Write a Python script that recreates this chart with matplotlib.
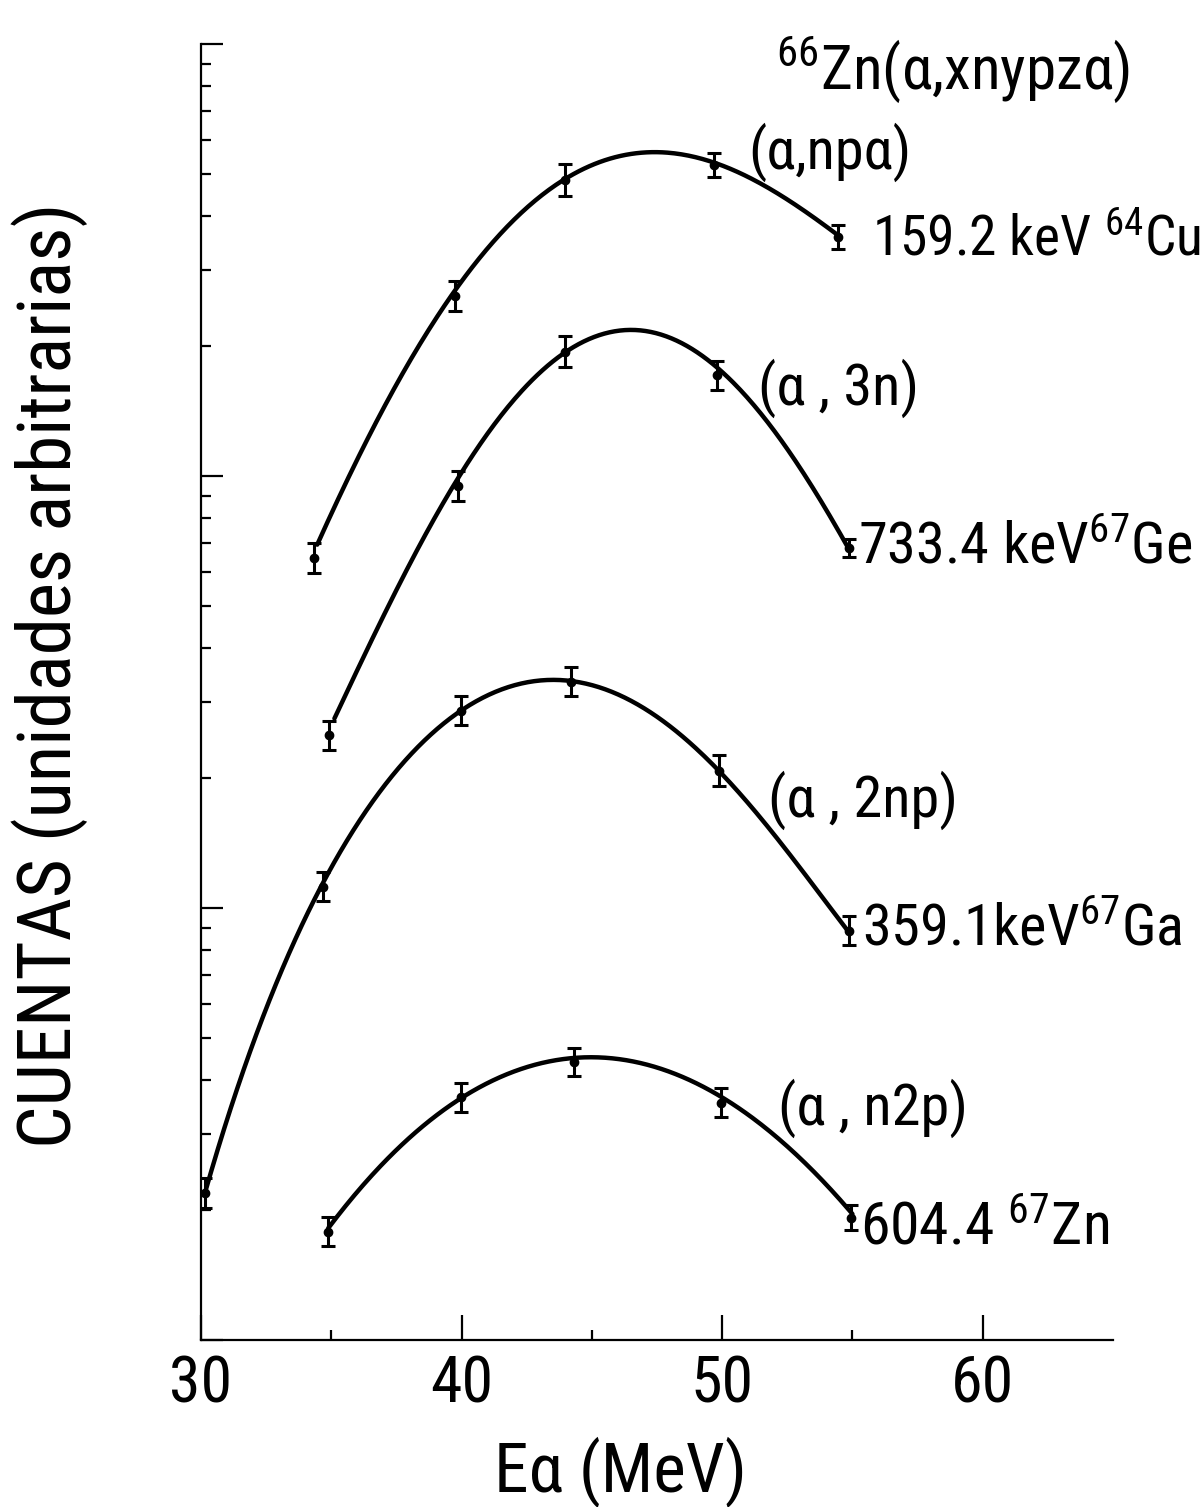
import numpy as np
import matplotlib
matplotlib.use("Agg")
import matplotlib.pyplot as plt
from matplotlib import font_manager as fm
from matplotlib.ticker import FixedLocator, NullFormatter, LogLocator

_names = {f.name for f in fm.fontManager.ttflist}
FONT = 'DejaVu Sans'
for cand in ['Roboto Condensed', 'Liberation Sans Narrow', 'Archivo Narrow', 'Roboto']:
    if cand in _names:
        FONT = cand
        break
plt.rcParams['font.family'] = [FONT, 'DejaVu Sans']

# ---------------- data ----------------
# (alpha, n p alpha)  159.2 keV 64Cu
npa_E = [34.35, 39.73, 43.96, 49.70, 54.46]
npa_y = [64.6, 261, 484, 525, 357]
npa_err = [0.085, 0.085, 0.09, 0.065, 0.065]
npa_curve_E = [34.46, 36.88, 39.73, 42.0, 43.96, 45.85, 47.15, 49.69, 51.77, 53.04, 54.46]
npa_curve_y = [69.2, 140, 265, 392, 490, 545, 560, 531, 467, 413, 361]

# (alpha, 3n)  733.4 keV 67Ge
a3n_E = [34.92, 39.88, 43.96, 49.80, 54.85]
a3n_y = [25.1, 94.8, 194, 171, 68.1]
a3n_err = [0.08, 0.085, 0.085, 0.08, 0.05]
a3n_curve_E = [35.12, 37.46, 39.85, 41.88, 43.92, 46.38, 48.5, 49.85, 52.19, 53.65, 54.85]
a3n_curve_y = [27.2, 55.3, 97.9, 142, 196, 220, 203, 176, 123, 89.3, 68.5]

# (alpha, 2np)  359.1 keV 67Ga
a2np_E = [30.15, 34.69, 39.96, 44.19, 49.88, 54.85]
a2np_y = [2.19, 11.2, 28.6, 33.4, 20.8, 8.85]
a2np_err = [0.085, 0.08, 0.08, 0.08, 0.085, 0.08]
a2np_curve_E = [30.15, 31.23, 32.92, 34.73, 36.62, 38.27, 39.96, 42.12, 44.19,
                46.31, 47.96, 49.88, 52.15, 53.65, 54.85]
a2np_curve_y = [2.21, 3.50, 6.89, 11.4, 17.8, 23.8, 28.6, 32.3, 33.3,
                31.1, 26.5, 20.7, 14.4, 10.9, 8.85]

# (alpha, n2p)  604.4 67Zn
an2p_E = [34.88, 39.96, 44.31, 49.96, 54.96]
an2p_y = [1.78, 3.65, 4.40, 3.54, 1.92]
an2p_err = [0.08, 0.08, 0.08, 0.08, 0.07]
an2p_curve_E = [34.88, 37.12, 39.96, 42.12, 44.31, 47.15, 49.96, 52.15, 55.0]
an2p_curve_y = [1.83, 2.55, 3.69, 4.24, 4.47, 4.29, 3.65, 2.96, 1.95]

x_major = [30, 40, 50, 60]
x_minor = [35, 45, 55]
x_ticklabels = ["30", "40", "50", "60"]

series = [
    (npa_E, npa_y, npa_err, npa_curve_E, npa_curve_y, 4),
    (a3n_E, a3n_y, a3n_err, a3n_curve_E, a3n_curve_y, 4),
    (a2np_E, a2np_y, a2np_err, a2np_curve_E, a2np_curve_y, 5),
    (an2p_E, an2p_y, an2p_err, an2p_curve_E, an2p_curve_y, 4),
]

W, H = 1204, 1507
fig = plt.figure(figsize=(W / 100, H / 100), dpi=100)
ax = fig.add_axes([201 / W, 1 - 1340 / H, 912 / W, 1296 / H])
ax.set_yscale('log')
ax.set_xlim(30, 65)
ax.set_ylim(1, 1000)

for E, y, err, cE, cy, deg in series:
    # smooth least-squares fit through the curve points
    coef = np.polyfit(cE, np.log10(cy), deg)
    xs = np.linspace(cE[0], cE[-1], 300)
    ax.plot(xs, 10 ** np.polyval(coef, xs), color='black', lw=3.2,
            solid_capstyle='round', zorder=2)
    y = np.asarray(y)
    e = np.asarray(err)
    lower = y - y / (1 + e)
    upper = y * e
    ax.errorbar(E, y, yerr=[lower, upper], fmt='o', color='black', ms=6,
                elinewidth=2.2, capsize=5, capthick=2.2, zorder=3)

for s in ['top', 'right']:
    ax.spines[s].set_visible(False)
for s in ['left', 'bottom']:
    ax.spines[s].set_linewidth(1.6)

ax.xaxis.set_major_locator(FixedLocator(x_major))
ax.xaxis.set_minor_locator(FixedLocator(x_minor))
ax.set_xticklabels(x_ticklabels)
ax.yaxis.set_major_locator(LogLocator(base=10, numticks=10))
ax.yaxis.set_minor_locator(LogLocator(base=10, subs=np.arange(2, 10), numticks=10))
ax.yaxis.set_major_formatter(NullFormatter())
ax.yaxis.set_minor_formatter(NullFormatter())
ax.tick_params(axis='y', which='major', direction='in', length=16, width=1.6)
ax.tick_params(axis='x', which='major', direction='in', length=18, width=1.6)
ax.tick_params(axis='both', which='minor', direction='in', length=7, width=1.6)
ax.tick_params(axis='x', which='major', labelsize=46, pad=10)

ax.set_xlabel("Eα (MeV)", fontsize=50, va='center', ha='center')
ax.xaxis.set_label_coords((620 - 201) / 912, (1340 - 1472) / 1296)
ax.set_ylabel("CUENTAS (unidades arbitrarias)", fontsize=54, va='center', ha='center')
ax.yaxis.set_label_coords((50 - 201) / 912, (1340 - 675) / 1296)


def ftext(px, py, s, size):
    fig.text(px / W, 1 - py / H, s, fontsize=size, ha='left', va='center')

ftext(776, 70, r"$\mathregular{^{66}}$Zn(α,xnypzα)", 44)
ftext(748, 152, "(α,npα)", 42)
ftext(872, 240, r"159.2 keV $\mathregular{^{64}}$Cu", 40)
ftext(758, 388, "(α , 3n)", 42)
ftext(858, 548, r"733.4 keV$\mathregular{^{67}}$Ge", 42)
ftext(768, 800, "(α , 2np)", 42)
ftext(862, 930, r"359.1keV$\mathregular{^{67}}$Ga", 42)
ftext(778, 1108, "(α , n2p)", 42)
ftext(860, 1228, r"604.4 $\mathregular{^{67}}$Zn", 43)

fig.savefig("out.png", dpi=100)
